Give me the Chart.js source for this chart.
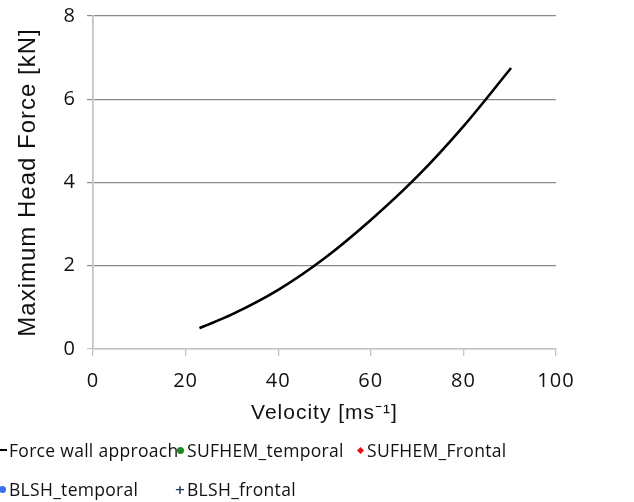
<!DOCTYPE html>
<html>
<head>
<meta charset="utf-8">
<script src="https://cdn.jsdelivr.net/npm/chart.js@4.4.1/dist/chart.umd.min.js"></script>
<style>
  html, body { margin: 0; padding: 0; background: #fff; }
  #wrap { position: relative; width: 634px; height: 502px; overflow: hidden; }
  #c { position: absolute; left: 0; top: 0; }
  #legend { position: absolute; left: -3px; top: 437px; display: grid;
    grid-template-columns: 178px 180px auto; row-gap: 13px;
    font-family: "Open Sans", sans-serif; font-size: 17.5px; color: #111; letter-spacing: 0.3px; }
  .item { display: flex; align-items: center; height: 26px; white-space: nowrap; }
  .mk { width: 10px; height: 10px; margin-right: 2px; display: inline-flex; align-items: center; justify-content: center; flex: none; }
</style>
</head>
<body>
<div id="wrap">
  <canvas id="c" width="634" height="502"></canvas>
  <div id="legend"></div>
</div>
<script>
// ---- data ----
const velocity = [23, 30, 40, 50, 60, 70, 80, 90.3];
const forceWallApproach = [0.5, 0.83, 1.42, 2.18, 3.1, 4.14, 5.35, 6.75];
const sufhemTemporal = [];
const sufhemFrontal = [];
const blshTemporal = [];
const blshFrontal = [];
const seriesLabels = ["Force wall approach", "SUFHEM_temporal", "SUFHEM_Frontal", "BLSH_temporal", "BLSH_frontal"];
const xTicks = [0, 20, 40, 60, 80, 100];
const yTicks = [0, 2, 4, 6, 8];
const xTitle = "Velocity [ms\u207B\u00B9]";
const yTitle = "Maximum Head Force [kN]";

Chart.defaults.color = '#111';

const spacing = {
  id: 'spacing',
  beforeUpdate(c) { c.ctx.letterSpacing = '1px'; },
  beforeDraw(c) { c.ctx.letterSpacing = '1px'; }
};

function markerHTML(ds) {
  const s = ds.legendMarker;
  if (s === 'line') return '<span class="mk"><span style="width:9px;height:2.5px;background:#000;display:block"></span></span>';
  if (s === 'circle') return '<span class="mk"><span style="width:7px;height:7px;border-radius:50%;background:' + ds.pointBackgroundColor + ';display:block"></span></span>';
  if (s === 'rectRot') return '<span class="mk"><span style="width:5px;height:5px;transform:rotate(45deg);background:' + ds.pointBackgroundColor + ';display:block"></span></span>';
  if (s === 'cross') return '<span class="mk" style="color:' + ds.pointBorderColor + ';font-size:13px;font-weight:bold;font-family:DejaVu Sans">+</span>';
  return '<span class="mk"></span>';
}

const htmlLegend = {
  id: 'htmlLegend',
  afterUpdate(chart) {
    const box = document.getElementById('legend');
    box.innerHTML = '';
    chart.data.datasets.forEach(ds => {
      const d = document.createElement('div');
      d.className = 'item';
      d.innerHTML = markerHTML(ds) + '<span>' + ds.label + '</span>';
      box.appendChild(d);
    });
  }
};

const toXY = (xs, ys) => xs.map((x, i) => ({ x: x, y: ys[i] }));

new Chart(document.getElementById('c'), {
  type: 'line',
  data: {
    datasets: [
      { label: seriesLabels[0], data: toXY(velocity, forceWallApproach), borderColor: '#000', borderWidth: 2.6,
        pointRadius: 0, cubicInterpolationMode: 'monotone', fill: false, legendMarker: 'line' },
      { label: seriesLabels[1], data: sufhemTemporal, showLine: false, pointStyle: 'circle',
        pointBackgroundColor: '#1e8a1e', pointBorderColor: '#1e8a1e', legendMarker: 'circle' },
      { label: seriesLabels[2], data: sufhemFrontal, showLine: false, pointStyle: 'rectRot',
        pointBackgroundColor: '#ee1111', pointBorderColor: '#ee1111', legendMarker: 'rectRot' },
      { label: seriesLabels[3], data: blshTemporal, showLine: false, pointStyle: 'circle',
        pointBackgroundColor: '#3a6ff0', pointBorderColor: '#3a6ff0', legendMarker: 'circle' },
      { label: seriesLabels[4], data: blshFrontal, showLine: false, pointStyle: 'cross',
        pointBackgroundColor: '#1f3864', pointBorderColor: '#1f3864', legendMarker: 'cross' }
    ]
  },
  options: {
    responsive: false,
    animation: false,
    layout: { padding: { top: 16, left: 0, right: 78, bottom: 73 } },
    plugins: { legend: { display: false }, tooltip: { enabled: false } },
    scales: {
      x: {
        type: 'linear', min: 0, max: 100,
        afterBuildTicks: s => { s.ticks = xTicks.map(v => ({ value: v })); },
        afterFit: s => { s.height = 80; s.paddingLeft = 0; s.paddingRight = 0; },
        grid: { drawOnChartArea: false, drawTicks: true, tickLength: 7, color: '#c4c4c4', lineWidth: 1.3 },
        border: { display: true, color: '#c4c4c4', width: 1.5 },
        ticks: { padding: 13, font: { family: 'Open Sans', size: 20 }, color: '#111', maxRotation: 0 },
        title: { display: true, text: xTitle, padding: { top: 0, bottom: 3 },
          font: { family: 'Liberation Sans', size: 21 }, color: '#111' }
      },
      y: {
        type: 'linear', min: 0, max: 8,
        afterBuildTicks: s => { s.ticks = yTicks.map(v => ({ value: v })); },
        afterFit: s => { s.width = 93; s.paddingTop = 0; s.paddingBottom = 0; },
        grid: { tickLength: 6, lineWidth: 1.2,
          color: ctx => (ctx.tick && ctx.tick.value === 0) ? '#c4c4c4' : '#8a8a8a' },
        border: { display: true, color: '#c4c4c4', width: 1.8 },
        ticks: { padding: 11, font: { family: 'Open Sans', size: 20 }, color: '#111' },
        title: { display: true, text: yTitle, padding: { top: 14, bottom: 0 },
          font: { family: 'Liberation Sans', size: 24 }, color: '#111' }
      }
    }
  },
  plugins: [spacing, htmlLegend]
});
</script>
</body>
</html>
